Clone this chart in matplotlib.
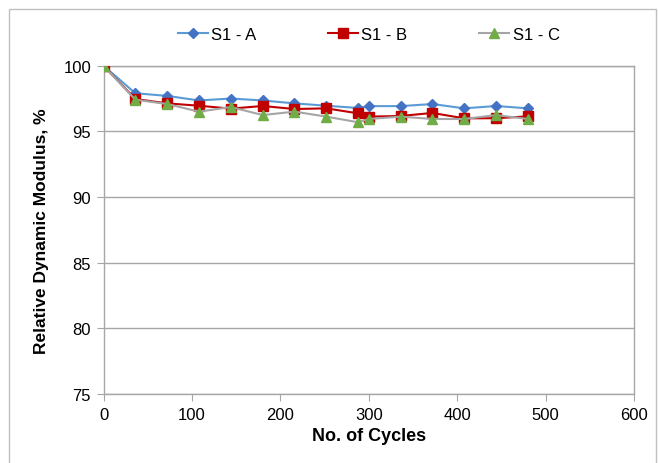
import matplotlib
matplotlib.use("Agg")
import matplotlib.pyplot as plt
from matplotlib.patches import Rectangle

plt.rcParams['font.family'] = ['Liberation Sans', 'DejaVu Sans']

cycles = [0, 36, 72, 108, 144, 180, 216, 252, 288, 300, 336, 372, 408, 444, 480]
s1_a = [100.0, 97.9, 97.7, 97.35, 97.5, 97.35, 97.13, 96.95, 96.78, 96.92, 96.92, 97.08, 96.75, 96.93, 96.75]
s1_b = [100.0, 97.46, 97.13, 96.95, 96.73, 96.93, 96.7, 96.75, 96.37, 96.12, 96.17, 96.4, 95.99, 96.0, 96.14]
s1_c = [100.0, 97.41, 97.08, 96.5, 96.85, 96.24, 96.5, 96.12, 95.69, 95.94, 96.12, 95.94, 95.94, 96.24, 95.94]

x_ticks = [0, 100, 200, 300, 400, 500, 600]
y_ticks = [75, 80, 85, 90, 95, 100]

fig = plt.figure(figsize=(6.58, 4.64), dpi=100)
ax = fig.add_axes([0.1573, 0.1487, 0.9635 - 0.1573, 0.8563 - 0.1487])

# outer chart border
fig.patches.append(Rectangle((9 / 658, -0.05), (656 - 9) / 658, 1.05 - 10 / 464,
                             transform=fig.transFigure, fill=False,
                             edgecolor='#c0c0c0', linewidth=1.0))

ax.plot(cycles, s1_a, color='#5B9BD5', linewidth=1.5, marker='D', markersize=5,
        markerfacecolor='#4472C4', markeredgecolor='#4472C4', label='S1 - A', zorder=3)
ax.plot(cycles, s1_b, color='#C00000', linewidth=1.5, marker='s', markersize=7.2,
        markerfacecolor='#C00000', markeredgecolor='#C00000', label='S1 - B', zorder=4)
ax.plot(cycles, s1_c, color='#A5A5A5', linewidth=1.5, marker='^', markersize=6.5,
        markerfacecolor='#70AD47', markeredgecolor='#70AD47', label='S1 - C', zorder=5)

ax.set_xlim(0, 600)
ax.set_ylim(75, 100)
ax.set_xticks(x_ticks)
ax.set_yticks(y_ticks)
ax.grid(axis='y', color='#a6a6a6', linewidth=1.0)
ax.set_axisbelow(True)
for side in ['left', 'bottom', 'right', 'top']:
    ax.spines[side].set_color('#a6a6a6')
    ax.spines[side].set_linewidth(1.0)
ax.tick_params(axis='both', direction='out', length=5, color='#a6a6a6',
               labelsize=12, labelcolor='black', pad=4)

ax.set_xlabel('No. of Cycles', fontsize=13, fontweight='bold', labelpad=4)
ax.set_ylabel('Relative Dynamic Modulus, %', fontsize=12.5, fontweight='bold', labelpad=10)

ax.legend(loc='center', bbox_to_anchor=(0.5, 1.095), ncol=3, frameon=False,
          fontsize=12, handlelength=1.8, handletextpad=0.2, columnspacing=4.3)

fig.savefig('out.png', dpi=100)
